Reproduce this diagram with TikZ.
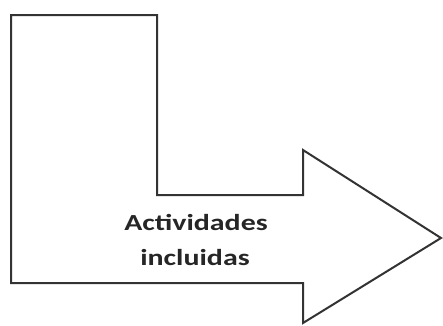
\documentclass[tikz,border=0pt]{standalone}
\usepackage{fontspec}
\usepackage{graphicx}
\setmainfont{Carlito}
\begin{document}
\begin{tikzpicture}[x=1pt,y=-1pt,
  shapeline/.style={draw=black!80,line width=2pt,line join=miter,fill=white},
  lbl/.style={anchor=base,inner sep=0pt,text=black!85,font=\bfseries\fontsize{23}{27}\selectfont}]
\useasboundingbox (0,0) rectangle (443,325);
\draw[shapeline] (11,15) -- (157,15) -- (157,195) -- (303,195) -- (303,150)
  -- (441,238) -- (303,323) -- (303,283) -- (11,283) -- cycle;
\node[lbl] (t1) at (196,230) {\scalebox{1.3}[1]{Actividades}};
\node[lbl] (t2) at (195,265) {\scalebox{1.3}[1]{incluidas}};
\end{tikzpicture}
\end{document}
